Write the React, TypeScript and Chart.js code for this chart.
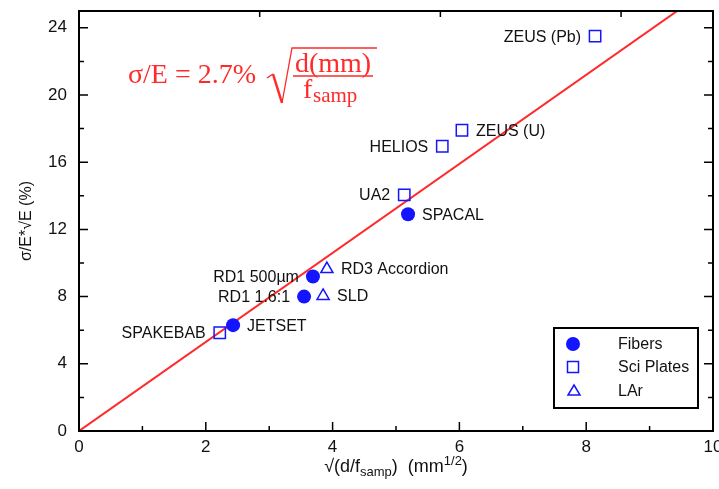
import React, { useEffect, useRef } from 'react';
import { Chart, registerables } from 'chart.js';

Chart.register(...registerables);

// ---- data ----
const fibersX = [2.43, 3.55, 3.69, 5.19];
const fibersY = [6.3, 8.0, 9.2, 12.9];
const fibersLabels = ['JETSET', 'RD1 1.6:1', 'RD1 500µm', 'SPACAL'];
const fibersSide = ['right', 'left', 'left', 'right'];

const platesX = [2.22, 5.13, 5.73, 6.04, 8.14];
const platesY = [5.85, 14.05, 16.95, 17.9, 23.5];
const platesLabels = ['SPAKEBAB', 'UA2', 'HELIOS', 'ZEUS (U)', 'ZEUS (Pb)'];
const platesSide = ['left', 'left', 'left', 'right', 'left'];

const larX = [3.85, 3.91];
const larY = [8.04, 9.64];
const larLabels = ['SLD', 'RD3 Accordion'];
const larSide = ['right', 'right'];

const fitX = [0, 10];
const fitY = [0, 26.5];

const xMajor = [0, 2, 4, 6, 8, 10];
const xMinor = [1, 3, 5, 7, 9];
const yMajor = [0, 4, 8, 12, 16, 20, 24];
const yMinor = [2, 6, 10, 14, 18, 22];
const topTicks = [2.85, 5.7, 8.55];

const legendNames = ['Fibers', 'Sci Plates', 'LAr'];

const BLUE = '#1414ff';
const RED = '#ff2a2a';
const SANS = '"Liberation Sans", Arial, sans-serif';
const SERIF = '"Liberation Serif", "Times New Roman", serif';

const pts = (xs: number[], ys: number[]) => xs.map((x, i) => ({ x, y: ys[i] }));

const labelSets = [
  { labels: fibersLabels, side: fibersSide },
  { labels: platesLabels, side: platesSide },
  { labels: larLabels, side: larSide },
];

const decorPlugin = {
  id: 'decor',
  afterDatasetsDraw(chart: any) {
    const ctx: CanvasRenderingContext2D = chart.ctx;
    const { left, right, top, bottom } = chart.chartArea;
    const xs = chart.scales.x;
    const ys = chart.scales.y;
    ctx.save();

    // frame
    ctx.strokeStyle = '#000';
    ctx.lineWidth = 2;
    ctx.strokeRect(left, top, right - left, bottom - top);

    // ticks (inward)
    ctx.lineWidth = 1.5;
    ctx.beginPath();
    const major = 9, minor = 5;
    xMajor.forEach((v) => {
      const px = xs.getPixelForValue(v);
      ctx.moveTo(px, bottom); ctx.lineTo(px, bottom - major);
    });
    xMinor.forEach((v) => {
      const px = xs.getPixelForValue(v);
      ctx.moveTo(px, bottom); ctx.lineTo(px, bottom - minor);
    });
    topTicks.forEach((v) => {
      const px = xs.getPixelForValue(v);
      ctx.moveTo(px, top); ctx.lineTo(px, top + 6);
    });
    yMajor.forEach((v) => {
      const py = ys.getPixelForValue(v);
      ctx.moveTo(left, py); ctx.lineTo(left + major, py);
      ctx.moveTo(right, py); ctx.lineTo(right - major, py);
    });
    yMinor.forEach((v) => {
      const py = ys.getPixelForValue(v);
      ctx.moveTo(left, py); ctx.lineTo(left + minor, py);
      ctx.moveTo(right, py); ctx.lineTo(right - minor, py);
    });
    ctx.stroke();

    // x tick labels (from the x scale's ticks)
    ctx.fillStyle = '#111';
    ctx.font = `17px ${SANS}`;
    ctx.textAlign = 'center';
    ctx.textBaseline = 'top';
    xs.ticks.forEach((t: any) => {
      ctx.fillText(String(t.value), xs.getPixelForValue(t.value), bottom + 8);
    });

    // point labels
    ctx.font = `16px ${SANS}`;
    ctx.textBaseline = 'middle';
    labelSets.forEach((set, di) => {
      const meta = chart.getDatasetMeta(di);
      meta.data.forEach((el: any, i: number) => {
        const gap = 14;
        if (set.side[i] === 'right') {
          ctx.textAlign = 'left';
          ctx.fillText(set.labels[i], el.x + gap, el.y + 1);
        } else {
          ctx.textAlign = 'right';
          ctx.fillText(set.labels[i], el.x - gap, el.y + 1);
        }
      });
    });

    // formula
    ctx.fillStyle = RED;
    ctx.strokeStyle = RED;
    ctx.textBaseline = 'alphabetic';
    ctx.textAlign = 'left';
    ctx.font = `28px ${SERIF}`;
    const fx = left + 49, fy = top + 72;
    ctx.fillText('σ/E = 2.7%', fx, fy);
    ctx.lineWidth = 1.5;
    ctx.beginPath();
    ctx.moveTo(fx + 139, fy - 5);
    ctx.lineTo(fx + 145, fy - 9);
    ctx.stroke();
    ctx.lineWidth = 2.5;
    ctx.beginPath();
    ctx.moveTo(fx + 145, fy - 9);
    ctx.lineTo(fx + 154, fy + 20);
    ctx.stroke();
    ctx.lineWidth = 1.3;
    ctx.beginPath();
    ctx.moveTo(fx + 154, fy + 20);
    ctx.lineTo(fx + 164, fy - 35);
    ctx.lineTo(fx + 249, fy - 35);
    ctx.stroke();
    ctx.textAlign = 'center';
    ctx.fillText('d(mm)', fx + 205, fy - 11);
    ctx.lineWidth = 1.5;
    ctx.beginPath();
    ctx.moveTo(fx + 165, fy - 7);
    ctx.lineTo(fx + 245, fy - 7);
    ctx.stroke();
    ctx.textAlign = 'left';
    ctx.fillText('f', fx + 175, fy + 15);
    ctx.font = `21px ${SERIF}`;
    ctx.fillText('samp', fx + 185, fy + 19);

    // legend
    const lx0 = right - 159, ly0 = bottom - 103, lw = 144, lh = 80;
    ctx.fillStyle = '#fff';
    ctx.fillRect(lx0, ly0, lw, lh);
    ctx.strokeStyle = '#000';
    ctx.lineWidth = 2;
    ctx.strokeRect(lx0, ly0, lw, lh);
    const mx = lx0 + 19;
    const rows = [ly0 + 16, ly0 + 39, ly0 + 63];
    ctx.fillStyle = BLUE;
    ctx.beginPath();
    ctx.arc(mx, rows[0], 7, 0, Math.PI * 2);
    ctx.fill();
    ctx.strokeStyle = BLUE;
    ctx.lineWidth = 1.5;
    ctx.strokeRect(mx - 5.5, rows[1] - 5.5, 11, 11);
    ctx.beginPath();
    ctx.moveTo(mx + 1, rows[2] - 6);
    ctx.lineTo(mx + 7, rows[2] + 4);
    ctx.lineTo(mx - 5, rows[2] + 4);
    ctx.closePath();
    ctx.stroke();
    ctx.fillStyle = '#111';
    ctx.font = `16px ${SANS}`;
    ctx.textBaseline = 'middle';
    ctx.textAlign = 'left';
    legendNames.forEach((n, i) => ctx.fillText(n, lx0 + 64, rows[i] + 1));

    // x axis title
    const parts = [
      { t: '√(d/f', s: 18, dy: 0 },
      { t: 'samp', s: 13, dy: 4 },
      { t: ')  (mm', s: 18, dy: 0 },
      { t: '1/2', s: 13, dy: -7 },
      { t: ')', s: 18, dy: 0 },
    ];
    ctx.textBaseline = 'alphabetic';
    let total = 0;
    parts.forEach((p) => { ctx.font = `${p.s}px ${SANS}`; total += ctx.measureText(p.t).width; });
    let cx = (left + right) / 2 - total / 2;
    const by = bottom + 41;
    parts.forEach((p) => {
      ctx.font = `${p.s}px ${SANS}`;
      ctx.fillText(p.t, cx, by + p.dy);
      cx += ctx.measureText(p.t).width;
    });

    ctx.restore();
  },
};

export default function App() {
  const ref = useRef<HTMLCanvasElement>(null);
  useEffect(() => {
    document.body.style.margin = '0';
    const chart = new Chart(ref.current!, {
      type: 'scatter',
      data: {
        datasets: [
          {
            label: 'Fibers',
            data: pts(fibersX, fibersY),
            pointStyle: 'circle',
            pointRadius: 7,
            backgroundColor: BLUE,
            borderColor: BLUE,
            borderWidth: 0,
          },
          {
            label: 'Sci Plates',
            data: pts(platesX, platesY),
            pointStyle: 'rect',
            pointRadius: 8,
            backgroundColor: 'rgba(255,255,255,0)',
            borderColor: BLUE,
            borderWidth: 1.5,
          },
          {
            label: 'LAr',
            data: pts(larX, larY),
            pointStyle: 'triangle',
            pointRadius: 7,
            backgroundColor: 'rgba(255,255,255,0)',
            borderColor: BLUE,
            borderWidth: 1.5,
          },
          {
            label: 'fit',
            data: pts(fitX, fitY),
            showLine: true,
            pointRadius: 0,
            borderColor: RED,
            borderWidth: 2,
            fill: false,
          } as any,
        ],
      },
      options: {
        animation: false,
        responsive: false,
        devicePixelRatio: 1,
        layout: { autoPadding: false, padding: { top: 11, right: 6, left: 0, bottom: 0 } },
        plugins: { legend: { display: false }, tooltip: { enabled: false } },
        scales: {
          x: {
            type: 'linear',
            min: 0,
            max: 10,
            grid: { display: false, drawTicks: false },
            border: { display: false },
            ticks: { display: false },
            afterBuildTicks: (s: any) => { s.ticks = xMajor.map((v) => ({ value: v })); },
            afterFit: (s: any) => { s.height = 58; s.paddingLeft = 0; s.paddingRight = 0; },
          },
          y: {
            type: 'linear',
            min: 0,
            max: 25,
            grid: { display: false, drawTicks: false },
            border: { display: false },
            ticks: { font: { size: 17, family: SANS }, color: '#111', padding: 12 },
            afterBuildTicks: (s: any) => { s.ticks = yMajor.map((v) => ({ value: v })); },
            afterFit: (s: any) => { s.width = 79; s.paddingTop = 0; s.paddingBottom = 0; },
            title: {
              display: true,
              text: 'σ/E*√E (%)',
              color: '#111',
              font: { size: 16, family: SANS },
              padding: { top: 17, bottom: 0 },
            },
          },
        },
      },
      plugins: [decorPlugin],
    });
    return () => chart.destroy();
  }, []);
  return (
    <div style={{ width: 719, height: 489, background: '#fff' }}>
      <canvas ref={ref} width={719} height={489} />
    </div>
  );
}
